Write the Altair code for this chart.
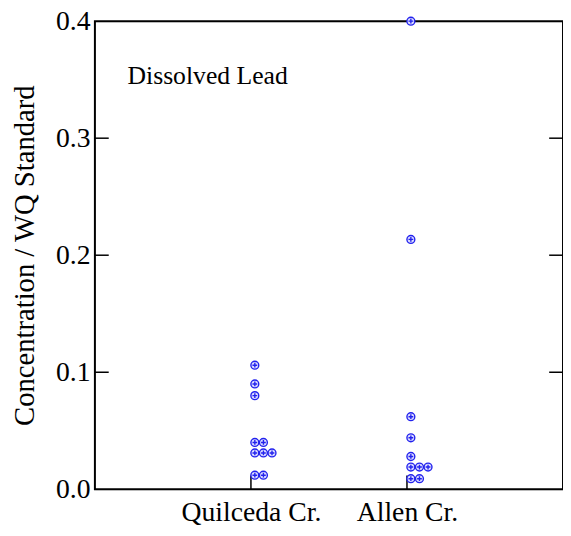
import altair as alt
import pandas as pd

sites = ["Quilceda Cr.", "Allen Cr."]
quilceda = [0.106, 0.090, 0.080, 0.040, 0.040, 0.031, 0.031, 0.031, 0.012, 0.012]
allen = [0.400, 0.2135, 0.062, 0.044, 0.028, 0.019, 0.019, 0.019, 0.009, 0.009]
y_ticks = [0.0, 0.1, 0.2, 0.3, 0.4]
panel_label = "Dissolved Lead"
y_title = "Concentration / WQ Standard"

rows = []
for i, (name, vals) in enumerate(zip(sites, [quilceda, allen]), start=1):
    for v in vals:
        rows.append({"site": name, "site_idx": i, "value": v})
df = pd.DataFrame(rows)

W, H = 474, 474
FONT = "Liberation Serif"

xscale = alt.Scale(domain=[0, 3], nice=False, zero=False)
yscale = alt.Scale(domain=[0, 0.4], nice=False, zero=True)

label_expr = "[" + ",".join("'" + s + "'" for s in sites) + "][datum.value - 1]"

points = alt.Chart(df).transform_window(
    idx="row_number()", groupby=["site", "value"]
).transform_calculate(
    pos="datum.site_idx + 0.025 + (datum.idx - 1) * 0.055"
).mark_point(
    shape="M-1,0A1,1,0,1,1,1,0A1,1,0,1,1,-1,0Z M-0.6,0L0.6,0 M0,-0.6L0,0.6",
    filled=False, stroke="#2222ee", strokeWidth=1.4, size=64,
    fill="#dcdcff", fillOpacity=1, opacity=1, clip=False,
).encode(
    x=alt.X("pos:Q", scale=xscale, axis=alt.Axis(
        values=[1, 2], labelExpr=label_expr, title=None, ticks=False, domain=False,
        grid=False, labelFont=FONT, labelFontSize=28, labelColor="black",
        labelPadding=10)),
    y=alt.Y("value:Q", scale=yscale, axis=alt.Axis(
        values=y_ticks, format=".1f", title=y_title, ticks=False, domain=False,
        grid=False, labelFont=FONT, labelFontSize=28, labelColor="black",
        labelPadding=5, titleFont=FONT, titleFontSize=29, titleFontWeight="normal",
        titleColor="black", titlePadding=16)),
)

frame = alt.Chart(pd.DataFrame({"f": [0]})).mark_rect(
    fill=None, stroke="black", strokeWidth=2
).encode(x=alt.value(0), x2=alt.value(W), y=alt.value(0), y2=alt.value(H))

ytick_df = pd.DataFrame({"t": y_ticks[1:-1]})
left_ticks = alt.Chart(ytick_df).mark_rule(color="black", strokeWidth=1.5).encode(
    y=alt.Y("t:Q", scale=yscale), x=alt.value(0), x2=alt.value(14))
right_ticks = alt.Chart(ytick_df).mark_rule(color="black", strokeWidth=1.5).encode(
    y=alt.Y("t:Q", scale=yscale), x=alt.value(W - 14), x2=alt.value(W))

xtick_df = pd.DataFrame({"s": [1, 2]})
bottom_ticks = alt.Chart(xtick_df).mark_rule(color="black", strokeWidth=1.5).encode(
    x=alt.X("s:Q", scale=xscale), y=alt.value(H - 14), y2=alt.value(H))

label = alt.Chart(pd.DataFrame({"t": [panel_label]})).mark_text(
    align="left", baseline="alphabetic", font=FONT, fontSize=26, color="black"
).encode(text="t:N", x=alt.value(33), y=alt.value(64))

chart = alt.layer(frame, left_ticks, right_ticks, bottom_ticks, points, label).properties(
    width=W, height=H,
    autosize=alt.AutoSizeParams(type="none"),
    padding={"left": 88, "top": 10, "right": 0, "bottom": 44},
).configure_view(stroke=None).configure(background="white")

chart.save("out.html", embed_options={"renderer": "svg", "actions": False})
